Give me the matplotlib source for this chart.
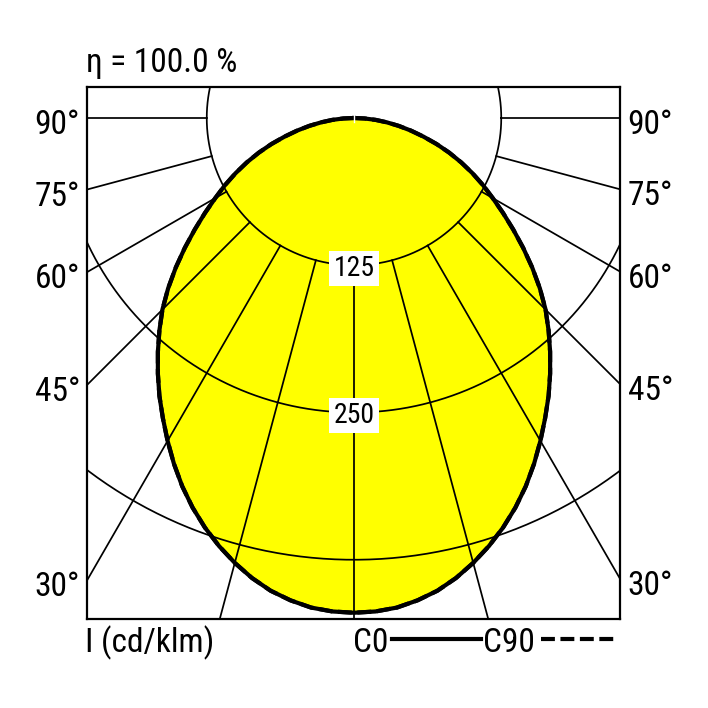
import numpy as np
import matplotlib
matplotlib.use("Agg")
import matplotlib.pyplot as plt
from matplotlib import font_manager as fm
from matplotlib.lines import Line2D
from matplotlib.transforms import blended_transform_factory, offset_copy

# luminous intensity (cd/klm) over gamma angle
GAMMA = [0, 2.5, 5, 7.5, 10, 12.5, 15, 17.5, 20, 22.5, 25, 27.5, 30, 32.5, 35, 37.5, 40, 42.5,
         45, 47.5, 50, 52.5, 55, 57.5, 60, 62.5, 65, 67.5, 70, 72.5, 75, 77.5, 80, 82.5, 85, 87.5, 90]
I_C0 = [420, 419.3, 417.2, 413, 407.5, 400, 391, 381, 370, 358, 345, 331, 316.5, 302, 288, 273.5,
        259, 244.5, 230, 214, 197.5, 181, 165, 150, 136, 123.5, 111, 98.5, 86, 73.5, 61, 49.5,
        38.5, 28, 18.5, 9, 0]
I_C90 = [420, 419.3, 417.2, 413, 407.5, 400, 391, 381, 370, 358, 345, 331, 316.5, 302, 288, 273.5,
         259, 244.5, 230, 214, 197.5, 181, 165, 150, 136, 123.5, 111, 98.5, 86, 73.5, 61, 49.5,
         38.5, 28, 18.5, 9, 0]

RINGS = [125, 250, 375]
RING_LABELS = ["125", "250"]
SPOKES = [0, 15, 30, 45, 60, 75, 90]
SIDE_LABELS = [30, 45, 60, 75, 90]
ETA_TEXT = "η = 100.0 %"
UNIT_TEXT = "I (cd/klm)"
LEGEND = ["C0", "C90"]

W = H = 708
SCALE = 1.178          # px per cd/klm
CX, CY = 354, 118      # pole in pixels
LEFT, RIGHT, TOP, BOTTOM = 87, 620, 87, 619
DASH = [10 / 3, 4 / 3]  # scaled by linewidth 3 -> 10pt on, 4pt off


def pick_font():
    fonts = fm.fontManager.ttflist
    names = {f.name: f for f in fonts}
    for cand in ["Liberation Sans Narrow", "Arial Narrow", "Roboto Condensed",
                 "Open Sans Condensed", "DejaVu Sans Condensed", "Noto Sans Condensed"]:
        if cand in names:
            return fm.FontProperties(family=cand), True
    cond = [f for f in fonts if "condensed" in str(f.stretch) and f.style == "normal"
            and f.weight in (400, "normal", "regular")]
    for fam in ["Liberation Sans", "DejaVu Sans", "Noto Sans", "Roboto", "Open Sans", "Lato"]:
        for f in cond:
            if f.name == fam and "semi" not in str(f.stretch) and "extra" not in str(f.stretch):
                return fm.FontProperties(fname=f.fname), True
    return fm.FontProperties(family="Liberation Sans"), False


def fx(x):
    return x / W


def fy(y):
    return 1 - y / H


def to_xy(gamma, intens):
    g = np.radians(gamma)
    return intens * np.sin(g), -intens * np.cos(g)


def full_curve(gamma, intens):
    g = [-a for a in gamma[::-1]] + list(gamma[1:])
    v = list(intens[::-1]) + list(intens[1:])
    return to_xy(np.array(g, float), np.array(v, float))


base_font, condensed = pick_font()
big = base_font.copy()
big.set_size(24 if condensed else 21)
small = base_font.copy()
small.set_size(20 if condensed else 17.5)

fig = plt.figure(figsize=(W / 100, H / 100), dpi=100)
ax = fig.add_axes([fx(LEFT), fy(BOTTOM), (RIGHT - LEFT) / W, (BOTTOM - TOP) / H])
xl, xr = -(CX - LEFT) / SCALE, (RIGHT - CX) / SCALE
ax.set_xlim(xl, xr)
ax.set_ylim(-(BOTTOM - CY) / SCALE, (CY - TOP) / SCALE)
ax.set_xticks([])
ax.set_yticks([])
for sp in ax.spines.values():
    sp.set_linewidth(1.6)
    sp.set_zorder(6)

x0, y0 = full_curve(GAMMA, I_C0)
x90, y90 = full_curve(GAMMA, I_C90)
ax.fill(x0, y0, color="#ffff00", lw=0, zorder=1)

t = np.linspace(0, 2 * np.pi, 721)
for r in RINGS:
    ax.plot(r * np.cos(t), r * np.sin(t), color="black", lw=1.25, zorder=2)
for a in SPOKES:
    for sgn in ([1] if a == 0 else [-1, 1]):
        gx, gy = to_xy(np.array([sgn * a, sgn * a], float), np.array([RINGS[0], 800.0]))
        ax.plot(gx, gy, color="black", lw=1.25, zorder=2)

ln90, = ax.plot(x90, y90, color="black", lw=3, zorder=3)
ln90.set_dashes(DASH)
ax.plot(x0, y0, color="black", lw=3, zorder=4, solid_joinstyle="round")
# small break of the outline at the pole, as in the original drawing
ax.plot([0, 0], [-3.5, 3.5], color="white", lw=1.0, zorder=4.5)

for r, lab in zip(RINGS, RING_LABELS):
    ax.text(0, -r, lab, ha="center", va="center_baseline", fontproperties=small, zorder=5,
            bbox=dict(boxstyle="square,pad=0.15", facecolor="white", edgecolor="none"))

blend = blended_transform_factory(ax.transAxes, ax.transData)
for a in SIDE_LABELS:
    ta = np.tan(np.radians(a))
    yl = 0 if a == 90 else xl / ta
    yr = 0 if a == 90 else -xr / ta
    ax.text(0, yl, f"{a}°", transform=offset_copy(blend, fig, x=-5, y=-11.5, units="points"),
            ha="right", va="baseline", fontproperties=big, clip_on=False)
    ax.text(1, yr, f"{a}°", transform=offset_copy(blend, fig, x=5.5, y=-11.5, units="points"),
            ha="left", va="baseline", fontproperties=big, clip_on=False)

fig.text(fx(86), fy(72), ETA_TEXT, fontproperties=big, va="baseline")
fig.text(fx(85), fy(652), UNIT_TEXT, fontproperties=big, va="baseline")
fig.text(fx(353), fy(652), LEGEND[0], fontproperties=big, va="baseline")
fig.text(fx(483), fy(652), LEGEND[1], fontproperties=big, va="baseline")
fig.add_artist(Line2D([fx(392), fx(481)], [fy(639), fy(639)], color="black", lw=3,
                      transform=fig.transFigure))
dash = Line2D([fx(541), fx(618)], [fy(639), fy(639)], color="black", lw=3,
              transform=fig.transFigure)
dash.set_dashes(DASH)
fig.add_artist(dash)

fig.savefig("out.png", dpi=100, facecolor="white")
